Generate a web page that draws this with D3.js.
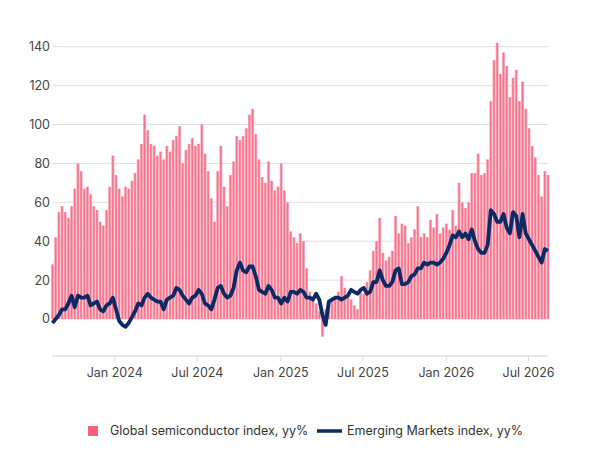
<!DOCTYPE html>
<html>
<head>
<meta charset="utf-8">
<script src="https://cdn.jsdelivr.net/npm/d3@7"></script>
<style>
  body { margin: 0; background: #fff; }
  svg text { font-family: Inter, "Noto Sans", sans-serif; }
</style>
</head>
<body>
<div id="chart"></div>
<script>
// weekly observations, first one on 18 Aug 2023
const startDate = new Date(2023, 7, 18)

const semiValues = [
  28, 42, 55, 58, 55, 52, 58, 67, 80, 76, 67, 68, 64, 58, 56, 50, 48, 56, 68, 84,
  74, 67, 63, 68, 67, 71, 75, 82, 90, 105, 97, 90, 89, 84, 86, 82, 89, 86, 92, 94,
  99, 80, 87, 90, 93, 89, 90, 100, 85, 76, 62, 50, 76, 89, 68, 58, 74, 81, 94, 92,
  94, 98, 105, 108, 95, 82, 73, 70, 81, 71, 66, 68, 80, 66, 60, 45, 42, 39, 44, 40,
  26, 14, 11, 8, 4, -9, 5, 8, 10, 11, 14, 22, 16, 12, 10, 7, 5, 15, 13, 19,
  25, 35, 40, 52, 34, 30, 32, 35, 53, 44, 49, 48, 39, 42, 46, 58, 42, 44, 42, 51,
  47, 54, 44, 47, 49, 46, 56, 48, 70, 60, 57, 60, 75, 75, 85, 74, 75, 82, 112, 133,
  142, 126, 137, 130, 114, 124, 128, 112, 122, 108, 98, 89, 83, 74, 63, 76, 74
]

const emValues = [
  -2, 0, 2, 5, 5, 8, 12, 6, 12, 11, 11, 12, 7, 8, 9, 5, 4, 7, 8, 11,
  5, -1, -3, -4, -2, 1, 4, 8, 7, 11, 13, 11, 10, 9, 9, 5, 10, 11, 12, 16,
  15, 12, 10, 8, 11, 12, 15, 13, 8, 7, 5, 10, 16, 17, 13, 11, 12, 16, 25, 29,
  25, 24, 27, 27, 22, 15, 14, 13, 17, 15, 11, 11, 8, 11, 9, 14, 14, 13, 15, 14,
  11, 11, 10, 13, 10, 2, -3, 9, 10, 11, 11, 10, 11, 12, 15, 14, 13, 15, 16, 13,
  14, 19, 19, 25, 20, 17, 17, 19, 25, 26, 18, 18, 19, 22, 23, 26, 26, 29, 28, 29,
  29, 28, 29, 31, 34, 38, 43, 42, 45, 42, 44, 41, 46, 40, 36, 34, 34, 38, 56, 54,
  50, 50, 54, 47, 44, 55, 53, 42, 54, 44, 41, 38, 35, 32, 29, 36, 35
]

const yTicks = [0, 20, 40, 60, 80, 100, 120, 140]
const xTickDates = [
  new Date(2024, 0, 1), new Date(2024, 6, 1), new Date(2025, 0, 1),
  new Date(2025, 6, 1), new Date(2026, 0, 1), new Date(2026, 6, 1)
]
const seriesNames = ["Global semiconductor index, yy%", "Emerging Markets index, yy%"]

const data = semiValues.map((v, i) => ({
  date: d3.timeDay.offset(startDate, i * 7),
  semi: v,
  em: emValues[i]
}))

const width = 600, height = 457
const pinkColor = "#f7617e", lightPink = "#fbb9c6", navyColor = "#0b2a66"

const svg = d3.select("#chart").append("svg")
  .attr("width", width)
  .attr("height", height)

const x = d3.scaleTime()
  .domain([startDate, data[data.length - 1].date])
  .range([52.5, 548])

const y = d3.scaleLinear()
  .domain([-19, 140])
  .range([356, 46.7])

const step = x(data[1].date) - x(data[0].date)

// grid
svg.append("g")
  .selectAll("line")
  .data(yTicks)
  .join("line")
  .attr("x1", 52)
  .attr("x2", 548)
  .attr("y1", d => y(d))
  .attr("y2", d => y(d))
  .attr("stroke", "#dfdfe8")
  .attr("stroke-width", 1)

// y labels
svg.append("g")
  .attr("font-size", 12.5)
  .attr("fill", "#444")
  .attr("text-anchor", "end")
  .selectAll("text")
  .data(yTicks)
  .join("text")
  .attr("x", 50)
  .attr("y", d => y(d))
  .attr("dy", "0.35em")
  .text(d => d)

// bars: light full-width body with a darker core stripe
const bars = svg.append("g")
  .selectAll("g")
  .data(data)
  .join("g")
bars.append("rect")
  .attr("x", d => x(d.date) - step / 2)
  .attr("width", step)
  .attr("y", d => Math.min(y(d.semi), y(0)))
  .attr("height", d => Math.abs(y(d.semi) - y(0)))
  .attr("fill", lightPink)
bars.append("rect")
  .attr("x", d => x(d.date) - 0.8)
  .attr("width", 1.6)
  .attr("y", d => Math.min(y(d.semi), y(0)))
  .attr("height", d => Math.abs(y(d.semi) - y(0)))
  .attr("fill", pinkColor)
  .attr("fill-opacity", 0.8)

// line
svg.append("path")
  .datum(data)
  .attr("fill", "none")
  .attr("stroke", navyColor)
  .attr("stroke-width", 3.8)
  .attr("stroke-linejoin", "round")
  .attr("d", d3.line().x(d => x(d.date)).y(d => y(d.em)))

// x axis
const xAxis = svg.append("g")
  .attr("transform", `translate(0,${y(-19)})`)
  .call(d3.axisBottom(x)
    .tickValues(xTickDates)
    .tickSize(5)
    .tickPadding(7)
    .tickFormat(d3.timeFormat("%b %Y")))
xAxis.select(".domain").attr("stroke", "#dcdce6").attr("stroke-width", 1.5)
  .attr("d", `M52,0H548`)
xAxis.selectAll(".tick line").attr("stroke", "#dcdce6")
xAxis.selectAll(".tick text")
  .attr("font-size", 12.5)
  .attr("fill", "#444")
  .attr("font-family", "Inter, sans-serif")

// legend
const legend = svg.append("g")
  .attr("font-size", 12.5)
  .attr("fill", "#333")
legend.append("rect")
  .attr("x", 88).attr("y", 426)
  .attr("width", 10).attr("height", 10)
  .attr("fill", pinkColor)
legend.append("text")
  .attr("x", 110).attr("y", 431).attr("dy", "0.35em")
  .text(seriesNames[0])
legend.append("line")
  .attr("x1", 317).attr("x2", 342)
  .attr("y1", 431).attr("y2", 431)
  .attr("stroke", navyColor)
  .attr("stroke-width", 3.5)
legend.append("text")
  .attr("x", 347).attr("y", 431).attr("dy", "0.35em")
  .text(seriesNames[1])
</script>
</body>
</html>
